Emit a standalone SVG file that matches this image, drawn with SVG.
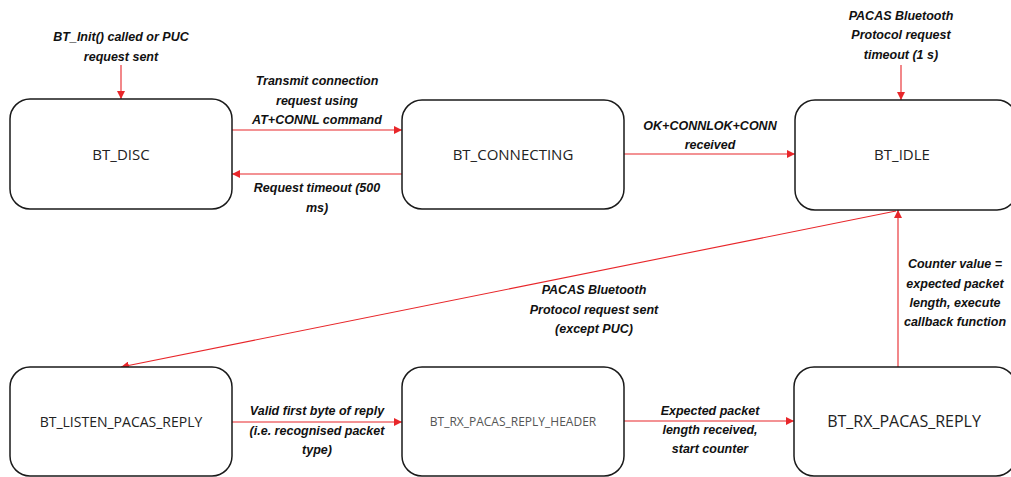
<svg xmlns="http://www.w3.org/2000/svg" width="1011" height="477" viewBox="0 0 1011 477">
<style>
.box{fill:#fff;stroke:#1a1a1a;stroke-width:1.5}
.nt{font-family:"Open Sans","Liberation Sans",sans-serif;font-size:15px;fill:#222;text-anchor:middle;dominant-baseline:central}
.lb{font-family:"Liberation Sans",sans-serif;font-size:12.5px;font-weight:bold;font-style:italic;fill:#111;text-anchor:middle}
.ln{stroke:#e8262a;stroke-width:1.1;fill:none;marker-end:url(#ah)}
</style>
<defs>
<marker id="ah" viewBox="0 0 10 10" refX="10" refY="5" markerWidth="8" markerHeight="8" markerUnits="userSpaceOnUse" orient="auto">
<path d="M0,0 L10,5 L0,10 z" fill="#e8262a"/>
</marker>
</defs>
<rect width="1011" height="477" fill="#fff"/>
<g id="connectors">
<line class="ln" x1="121" y1="65" x2="121" y2="99"/>
<line class="ln" x1="232" y1="130" x2="402" y2="130"/>
<line class="ln" x1="402" y1="174" x2="232" y2="174"/>
<line class="ln" x1="624" y1="154" x2="795" y2="154"/>
<line class="ln" x1="901" y1="65" x2="901" y2="100"/>
<line class="ln" x1="896" y1="211" x2="121" y2="367"/>
<line class="ln" x1="898" y1="367" x2="898" y2="210"/>
<line class="ln" x1="232" y1="422" x2="402" y2="422"/>
<line class="ln" x1="624" y1="421" x2="794" y2="421"/>
<text class="lb" x="121" y="41">BT_Init() called or PUC</text>
<text class="lb" x="121" y="61">request sent</text>
<text class="lb" x="317" y="85">Transmit connection</text>
<text class="lb" x="317" y="105">request using</text>
<text class="lb" x="317" y="124">AT+CONNL command</text>
<text class="lb" x="317" y="192">Request timeout (500</text>
<text class="lb" x="317" y="212">ms)</text>
<text class="lb" x="710" y="130">OK+CONNLOK+CONN</text>
<text class="lb" x="710" y="149">received</text>
<text class="lb" x="901" y="20">PACAS Bluetooth</text>
<text class="lb" x="901" y="39">Protocol request</text>
<text class="lb" x="901" y="59">timeout (1 s)</text>
<text class="lb" x="594" y="294">PACAS Bluetooth</text>
<text class="lb" x="594" y="314">Protocol request sent</text>
<text class="lb" x="594" y="333">(except PUC)</text>
<text class="lb" x="955" y="268">Counter value =</text>
<text class="lb" x="955" y="288">expected packet</text>
<text class="lb" x="955" y="307">length, execute</text>
<text class="lb" x="955" y="326">callback function</text>
<text class="lb" x="317" y="415">Valid first byte of reply</text>
<text class="lb" x="317" y="435">(i.e. recognised packet</text>
<text class="lb" x="317" y="454">type)</text>
<text class="lb" x="710" y="415">Expected packet</text>
<text class="lb" x="710" y="434">length received,</text>
<text class="lb" x="710" y="453">start counter</text>
</g>
<g id="bt_disc"><rect class="box" x="10" y="99" width="222" height="110" rx="20"/><text class="nt" x="121" y="154">BT_DISC</text></g>
<g id="bt_connecting"><rect class="box" x="402" y="100" width="222" height="109" rx="20"/><text class="nt" x="513" y="154">BT_CONNECTING</text></g>
<g id="bt_idle"><rect class="box" x="795" y="100" width="222" height="110" rx="20"/><text class="nt" x="902" y="154">BT_IDLE</text></g>
<g id="bt_listen_pacas_reply"><rect class="box" x="10" y="367" width="222" height="109" rx="20"/><text class="nt" x="121" y="421" style="font-size:14px">BT_LISTEN_PACAS_REPLY</text></g>
<g id="bt_rx_pacas_reply_header"><rect class="box" x="402" y="367" width="222" height="109" rx="20"/><text class="nt" x="513" y="421" style="font-size:12px;fill:#555">BT_RX_PACAS_REPLY_HEADER</text></g>
<g id="bt_rx_pacas_reply"><rect class="box" x="794" y="367" width="222" height="109" rx="20"/><text class="nt" x="904" y="421" style="font-size:16px">BT_RX_PACAS_REPLY</text></g>
</svg>
